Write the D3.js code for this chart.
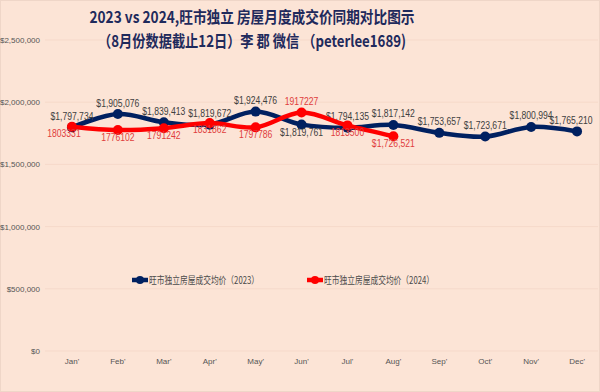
<!DOCTYPE html>
<html><head><meta charset="utf-8">
<script src="https://cdn.jsdelivr.net/npm/d3@7"></script>
<style>
html,body{margin:0;padding:0;background:#FCE4D6;}
svg{display:block;}
</style></head>
<body>
<script>
const months = ["Jan'","Feb'","Mar'","Apr'","May'","Jun'","Jul'","Aug'","Sep'","Oct'","Nov'","Dec'"];
const values2023 = [1797734,1905076,1839413,1819672,1924476,1819761,1794135,1817142,1753657,1723671,1800994,1765210];
const values2024 = [1803331,1776102,1791242,1831862,1797786,1917227,1813500,1726521];
const yTicks = [0,500000,1000000,1500000,2000000,2500000];
const seriesNames = ["旺市独立房屋成交均价（2023）","旺市独立房屋成交均价（2024）"];
const titleLines = ["2023 vs 2024,旺市独立 房屋月度成交价同期对比图示","（8月份数据截止12日）李 郡 微信 （peterlee1689)"];

const W=600,H=392;
const navy="#002060", red="#FF0000";
const svg=d3.select("body").append("svg").attr("width",W).attr("height",H);
svg.append("rect").attr("width",W).attr("height",H).attr("fill","#FCE4D6");
svg.append("rect").attr("x",0.5).attr("y",0.5).attr("width",W-1).attr("height",H-1).attr("fill","none").attr("stroke","#efd6c8");

const x=d3.scaleBand().domain(months).range([49,600]);
const cx=m=>x(m)+x.bandwidth()/2;
const y=d3.scaleLinear().domain([0,2500000]).range([351,40]);

svg.append("g").selectAll("line").data(yTicks).join("line")
  .attr("x1",45).attr("x2",598).attr("y1",d=>y(d)).attr("y2",d=>y(d))
  .attr("stroke","#f6d9ca").attr("stroke-width",1);

const fmt=d3.format("$,");
svg.append("g").selectAll("text").data(yTicks).join("text")
  .attr("x",40).attr("y",d=>y(d)+3).attr("text-anchor","end")
  .attr("font-family","Liberation Sans, Arial, sans-serif").attr("font-size",8)
  .attr("fill","#555").text(d=>fmt(d));

svg.append("g").selectAll("text").data(months).join("text")
  .attr("x",d=>cx(d)).attr("y",364).attr("text-anchor","middle")
  .attr("font-family","Liberation Sans, Arial, sans-serif").attr("font-size",8)
  .attr("fill","#555").text(d=>d);

const line=d3.line().x(d=>cx(d.m)).y(d=>y(d.v)).curve(d3.curveCatmullRom.alpha(0.5));
const d23=values2023.map((v,i)=>({m:months[i],v}));
const d24=values2024.map((v,i)=>({m:months[i],v}));
const lblFont="Liberation Sans, Arial, sans-serif";
function condense(sel,f){ sel.each(function(){ const L=this.getComputedTextLength(); d3.select(this).attr("textLength",L*f).attr("lengthAdjust","spacingAndGlyphs"); }); }

svg.append("path").datum(d23).attr("d",line).attr("fill","none").attr("stroke",navy).attr("stroke-width",4.5).attr("stroke-linejoin","round");
svg.append("g").selectAll("circle").data(d23).join("circle").attr("cx",d=>cx(d.m)).attr("cy",d=>y(d.v)).attr("r",5).attr("fill",navy);

svg.append("g").selectAll("text").data(d23).join("text")
  .attr("x",(d,i)=>cx(d.m)-(i===11?6:0)).attr("y",(d,i)=>i===5? y(d.v)+11.5 : y(d.v)-7.5)
  .attr("text-anchor","middle").attr("font-family",lblFont).attr("font-size",10)
  .attr("fill","#404040").text(d=>fmt(d.v)).call(condense,0.86);

svg.append("path").datum(d24).attr("d",line).attr("fill","none").attr("stroke",red).attr("stroke-width",4.5).attr("stroke-linejoin","round");
svg.append("g").selectAll("circle").data(d24).join("circle").attr("cx",d=>cx(d.m)).attr("cy",d=>y(d.v)).attr("r",5).attr("fill",red);

svg.append("g").selectAll("text").data(d24).join("text")
  .attr("x",(d,i)=>cx(d.m)-(i===0?8:0))
  .attr("y",(d,i)=>i===5? y(d.v)-7.5 : (i===3? y(d.v)+9.5 : y(d.v)+10.5))
  .attr("text-anchor","middle").attr("font-family",lblFont).attr("font-size",10)
  .attr("fill","#E03C3C").text((d,i)=>i===7?fmt(d.v):d.v).call(condense,0.86);

const leg=[{x:132,c:navy,t:seriesNames[0]},{x:307,c:red,t:seriesNames[1]}];
leg.forEach(l=>{
  const g=svg.append("g");
  g.append("line").attr("x1",l.x).attr("x2",l.x+16).attr("y1",280).attr("y2",280).attr("stroke",l.c).attr("stroke-width",4.5);
  g.append("circle").attr("cx",l.x+8).attr("cy",280).attr("r",4).attr("fill",l.c);
  g.append("text").attr("x",l.x+17).attr("y",284).attr("font-family","Noto Sans CJK SC, sans-serif").attr("font-size",10)
   .attr("textLength",110).attr("lengthAdjust","spacingAndGlyphs")
   .attr("fill","#4a4a4a").text(l.t);
});

const tw=[325,308];
svg.append("g").selectAll("text").data(titleLines).join("text")
  .attr("x",252).attr("y",(d,i)=>23+i*24).attr("text-anchor","middle")
  .attr("font-family","Noto Sans CJK SC, sans-serif").attr("font-weight","bold").attr("font-size",16)
  .attr("textLength",(d,i)=>tw[i]).attr("lengthAdjust","spacingAndGlyphs")
  .attr("fill","#1F2A5C").text(d=>d);
</script>
</body></html>
